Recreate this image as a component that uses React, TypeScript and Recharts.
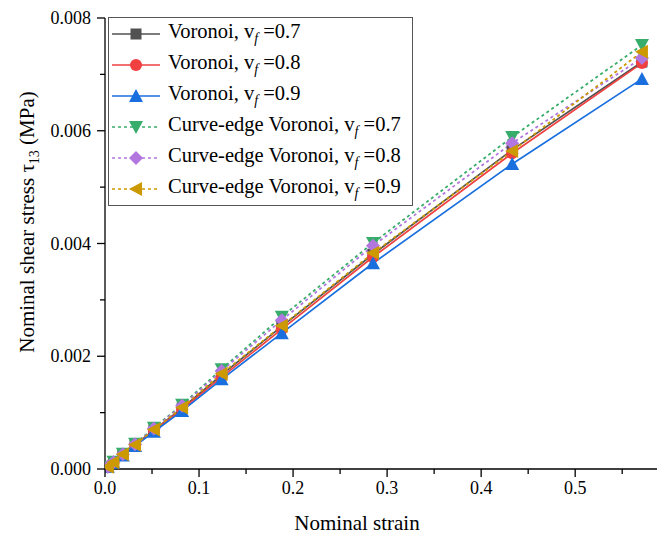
import React from "react";
import { LineChart, Line, XAxis, YAxis } from "recharts";

const strain = [0.003, 0.009, 0.019, 0.032, 0.052, 0.082, 0.124, 0.188, 0.285, 0.433, 0.571];

const vor07 = [0.00004, 0.00012, 0.00025, 0.00043, 0.00069, 0.00108, 0.00167, 0.00253, 0.00381, 0.00566, 0.00722];
const vor08 = [0.00004, 0.00012, 0.00025, 0.00042, 0.00068, 0.00106, 0.00163, 0.00248, 0.00376, 0.0056, 0.0072];
const vor09 = [0.00004, 0.00011, 0.00024, 0.00041, 0.00066, 0.00103, 0.00159, 0.00241, 0.00365, 0.00541, 0.00692];
const curve07 = [0.00004, 0.00013, 0.00027, 0.00045, 0.00073, 0.00114, 0.00177, 0.0027, 0.00401, 0.00589, 0.00752];
const curve08 = [0.00004, 0.00012, 0.00026, 0.00044, 0.00072, 0.00112, 0.00174, 0.00264, 0.00396, 0.00578, 0.00729];
const curve09 = [0.00004, 0.00012, 0.00026, 0.00043, 0.0007, 0.00109, 0.00169, 0.00254, 0.00383, 0.00564, 0.0074];

const xTicks = [0, 0.05, 0.1, 0.15, 0.2, 0.25, 0.3, 0.35, 0.4, 0.45, 0.5, 0.55];
const yTicks = [0, 0.001, 0.002, 0.003, 0.004, 0.005, 0.006, 0.007, 0.008];

const series = [
  { key: "vor07", label: "Voronoi, v", vf: "0.7", color: "#515151", shape: "square", dashed: false, values: vor07 },
  { key: "vor08", label: "Voronoi, v", vf: "0.8", color: "#F14040", shape: "circle", dashed: false, values: vor08 },
  { key: "vor09", label: "Voronoi, v", vf: "0.9", color: "#1A6FDF", shape: "up", dashed: false, values: vor09 },
  { key: "curve07", label: "Curve-edge Voronoi, v", vf: "0.7", color: "#37AD6B", shape: "down", dashed: true, values: curve07 },
  { key: "curve08", label: "Curve-edge Voronoi, v", vf: "0.8", color: "#B177DE", shape: "diamond", dashed: true, values: curve08 },
  { key: "curve09", label: "Curve-edge Voronoi, v", vf: "0.9", color: "#CC9900", shape: "left", dashed: true, values: curve09 },
];

const data = strain.map((x, i) => {
  const row: Record<string, number> = { x };
  series.forEach((s) => (row[s.key] = s.values[i]));
  return row;
});

const FONT = "'Liberation Serif', 'Times New Roman', serif";

function markerPath(shape: string, cx: number, cy: number, color: string, key?: string) {
  const s = 7;
  switch (shape) {
    case "square":
      return <rect key={key} x={cx - 5.5} y={cy - 5.5} width={11} height={11} fill={color} />;
    case "circle":
      return <circle key={key} cx={cx} cy={cy} r={6} fill={color} />;
    case "up":
      return <polygon key={key} points={`${cx},${cy - s} ${cx - s},${cy + s - 1} ${cx + s},${cy + s - 1}`} fill={color} />;
    case "down":
      return <polygon key={key} points={`${cx},${cy + s} ${cx - s},${cy - s + 1} ${cx + s},${cy - s + 1}`} fill={color} />;
    case "diamond":
      return <polygon key={key} points={`${cx},${cy - s} ${cx + s},${cy} ${cx},${cy + s} ${cx - s},${cy}`} fill={color} />;
    default:
      return <polygon key={key} points={`${cx - s},${cy} ${cx + s - 1},${cy - s} ${cx + s - 1},${cy + s}`} fill={color} />;
  }
}

const XTick = (props: any) => {
  const { x, y, payload } = props;
  const v = payload.value;
  const major = Math.abs(v * 10 - Math.round(v * 10)) < 1e-6;
  return (
    <g>
      <line x1={x} x2={x} y1={y} y2={y + (major ? 8 : 5)} stroke="#000" strokeWidth={1.3} />
      {major && (
        <text x={x} y={y + 25} textAnchor="middle" fontFamily={FONT} fontSize={18} fill="#000">
          {v.toFixed(1)}
        </text>
      )}
    </g>
  );
};

const YTick = (props: any) => {
  const { x, y, payload } = props;
  const v = payload.value;
  const major = Math.round(v * 1000) % 2 === 0;
  return (
    <g>
      <line x1={x - (major ? 8 : 5)} x2={x} y1={y} y2={y} stroke="#000" strokeWidth={1.3} />
      {major && (
        <text x={x - 14} y={y + 6} textAnchor="end" fontFamily={FONT} fontSize={18} fill="#000">
          {v.toFixed(3)}
        </text>
      )}
    </g>
  );
};

// legend drawn as an overlay so it doesn't eat into the plot area
const LegendBox = () => (
  <div
    style={{
      position: "absolute",
      left: 108,
      top: 17,
      border: "1px solid #555",
      background: "#fff",
      width: 305,
      height: 189,
      boxSizing: "border-box",
      fontFamily: FONT,
      fontSize: 20.5,
      color: "#000",
    }}
  >
    {series.map((s) => (
      <div key={s.key} style={{ height: 31, display: "flex", alignItems: "center" }}>
        <svg width={56} height={20} style={{ marginLeft: 3, flex: "none" }}>
          <line x1={0} x2={48} y1={10} y2={10} stroke={s.color} strokeWidth={1.6} strokeDasharray={s.dashed ? "3 3" : undefined} />
          {markerPath(s.shape, 24, 10, s.color)}
        </svg>
        <span style={{ whiteSpace: "nowrap" }}>
          {s.label}
          <sub style={{ fontStyle: "italic", fontSize: 14 }}>f</sub>
          {" =" + s.vf}
        </span>
      </div>
    ))}
  </div>
);

export default function App() {
  return (
    <div style={{ position: "absolute", left: 0, top: 0, width: 657, height: 541, background: "#fff" }}>
      <LineChart width={657} height={541} data={data} margin={{ top: 18, right: 0, left: 0, bottom: 0 }}>
        <XAxis
          dataKey="x"
          type="number"
          domain={[0, 0.587]}
          ticks={xTicks}
          interval={0}
          tick={<XTick />}
          tickLine={false}
          tickSize={0}
          tickMargin={0}
          height={72}
          axisLine={{ stroke: "#000", strokeWidth: 1.3 }}
          allowDataOverflow
          label={{
            content: () => (
              <text x={357} y={530} textAnchor="middle" fontFamily={FONT} fontSize={21} fill="#000">
                Nominal strain
              </text>
            ),
          }}
        />
        <YAxis
          type="number"
          domain={[0, 0.008]}
          ticks={yTicks}
          interval={0}
          tick={<YTick />}
          tickLine={false}
          tickSize={0}
          tickMargin={0}
          width={105}
          axisLine={{ stroke: "#000", strokeWidth: 1.3 }}
          label={{
            content: () => (
              <text
                x={0}
                y={0}
                transform="translate(34, 222) rotate(-90)"
                textAnchor="middle"
                fontFamily={FONT}
                fontSize={21}
                fill="#000"
              >
                Nominal shear stress  τ
                <tspan fontSize={14} dy={5}>13</tspan>
                <tspan dy={-5}> (MPa)</tspan>
              </text>
            ),
          }}
        />
        {series.map((s) => (
          <Line
            key={s.key}
            dataKey={s.key}
            name={s.label}
            stroke={s.color}
            strokeWidth={s.dashed ? 1.8 : 1.7}
            strokeDasharray={s.dashed ? "3 3" : undefined}
            type="linear"
            isAnimationActive={false}
            dot={(p: any) => markerPath(s.shape, p.cx, p.cy, s.color, `${s.key}-${p.index}`)}
            activeDot={false}
          />
        ))}
      </LineChart>
      <LegendBox />
    </div>
  );
}
